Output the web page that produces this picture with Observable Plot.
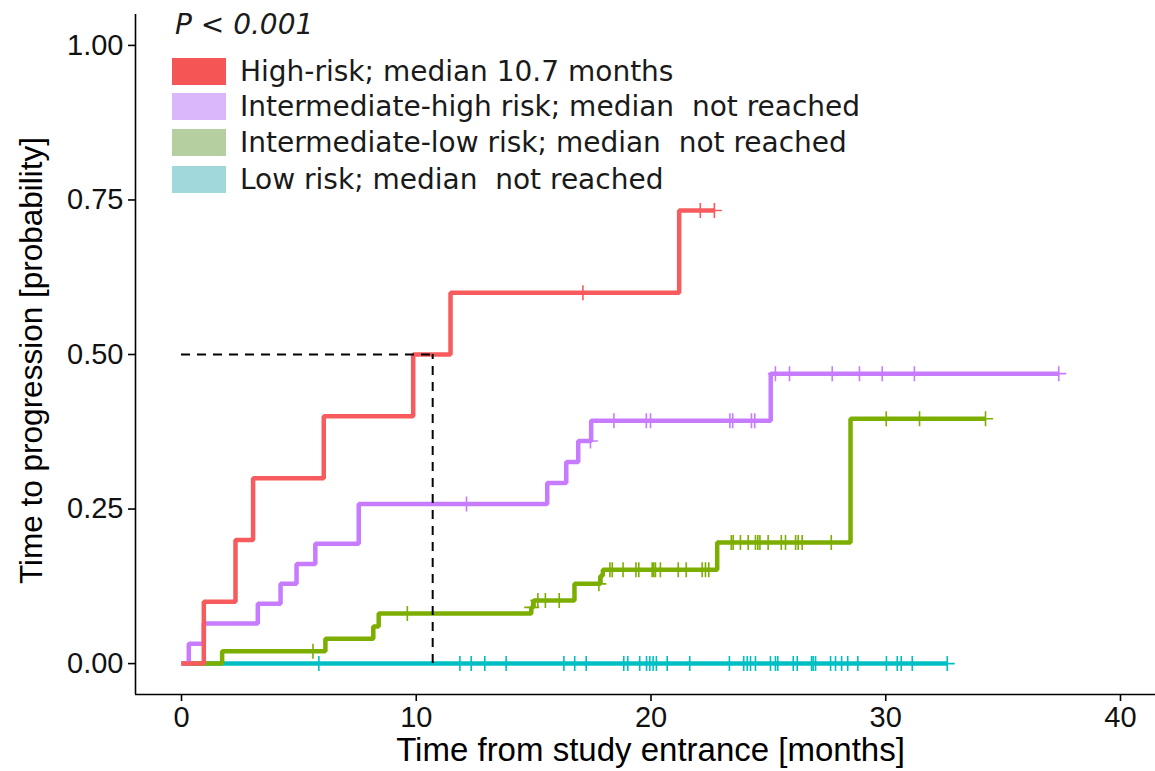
<!DOCTYPE html>
<html>
<head>
<meta charset="utf-8">
<script src="https://cdn.jsdelivr.net/npm/d3@7"></script>
<script src="https://cdn.jsdelivr.net/npm/@observablehq/plot@0.6"></script>
<style>
  html, body { margin: 0; padding: 0; background: #fff; }
  #wrap { position: relative; width: 1155px; height: 771px; }
  #legend { position: absolute; left: 172px; top: 0; font-family: "DejaVu Sans", sans-serif; font-size: 28px; color: #1a1a1a; }
  #pval { position: absolute; left: 3px; top: 8px; font-style: italic; white-space: nowrap; }
  .row { position: absolute; left: 0; height: 28px; display: flex; align-items: center; white-space: pre; }
  .swatch { width: 54px; height: 27px; margin-right: 14px; }
</style>
</head>
<body>
<div id="wrap"><div id="legend"></div></div>
<script>
// Risk groups, in legend order
const groups = ["High-risk", "Intermediate-high risk", "Intermediate-low risk", "Low risk"];
const legendLabels = [
  "High-risk; median 10.7 months",
  "Intermediate-high risk; median  not reached",
  "Intermediate-low risk; median  not reached",
  "Low risk; median  not reached"
];
const lineColors = ["#F85B5D", "#C77CFF", "#7CAE00", "#00BFC4"];
const legendColors = ["#F65556", "#DAB7FB", "#B6CFA0", "#A1D8DC"];
const pText = "P < 0.001";
const medianHigh = 10.7;

// Event times (months) and cumulative probability of progression after each event
const highTimes = [0.95, 2.3, 3.05, 6.06, 9.87, 11.46, 21.2];
const highProb = [0.1, 0.2, 0.3, 0.4, 0.5, 0.6, 0.733];
const highCensor = [17.1, 22.1, 22.7];

const intHighTimes = [0.31, 0.95, 3.25, 4.22, 4.9, 5.7, 7.55, 15.58, 16.39, 16.9, 17.45, 25.1];
const intHighProb = [0.032, 0.065, 0.097, 0.129, 0.161, 0.194, 0.258, 0.292, 0.326, 0.36, 0.393, 0.469];
const intHighCensor = [12.14, 17.42, 18.42, 19.8, 19.98, 23.36, 23.48, 24.28, 24.42, 25.3, 25.9, 27.72, 28.88, 29.85, 31.22, 37.37];

const intLowTimes = [1.73, 6.13, 8.17, 8.4, 14.9, 15.0, 16.74, 17.85, 17.95, 22.82, 28.5];
const intLowProb = [0.02, 0.04, 0.06, 0.081, 0.091, 0.102, 0.129, 0.142, 0.152, 0.196, 0.396];
const intLowCensor = [5.6, 9.62, 14.92, 15.18, 15.5, 16.09, 17.78, 18.25, 18.35, 18.81, 19.36, 19.48, 20.05, 20.12, 20.19, 20.4, 21.16, 21.5, 22.18, 22.32, 22.46, 23.42, 23.5, 23.81, 24.14, 24.45, 24.55, 24.64, 24.99, 25.55, 25.73, 26.16, 26.27, 26.44, 27.68, 30.02, 31.44, 34.25];

const lowTimes = [];
const lowProb = [];
const lowCensor = [5.85, 11.86, 12.34, 12.92, 13.83, 16.29, 16.75, 17.24, 18.84, 19.01, 19.52, 19.81, 19.95, 20.09, 20.23, 20.69, 21.65, 23.34, 23.95, 24.1, 24.24, 24.45, 25.09, 25.3, 25.4, 26.06, 26.23, 26.84, 26.91, 27.01, 27.65, 27.86, 28.12, 28.38, 28.81, 30.03, 30.49, 30.66, 31.13, 32.62];

const xTicks = [0, 10, 20, 30, 40];
const yTicks = [0, 0.25, 0.5, 0.75, 1];
const xTitle = "Time from study entrance [months]";
const yTitle = "Time to progression [probability]";

const series = [
  {group: groups[0], times: highTimes, prob: highProb, censor: highCensor},
  {group: groups[1], times: intHighTimes, prob: intHighProb, censor: intHighCensor},
  {group: groups[2], times: intLowTimes, prob: intLowProb, censor: intLowCensor},
  {group: groups[3], times: lowTimes, prob: lowProb, censor: lowCensor}
];

// Probability level in effect at time t
function levelAt(s, t) {
  let p = 0;
  s.times.forEach((ti, i) => { if (ti <= t) p = s.prob[i]; });
  return p;
}

// Step curves and censor marks; low risk drawn first so the higher-risk curves sit on top
const steps = [];
const censors = [];
for (const s of series.slice().reverse()) {
  const end = d3.max([...s.censor, ...s.times]);
  steps.push({group: s.group, t: 0, p: 0});
  s.times.forEach((t, i) => steps.push({group: s.group, t, p: s.prob[i]}));
  steps.push({group: s.group, t: end, p: levelAt(s, end)});
  s.censor.forEach(t => censors.push({group: s.group, t, p: levelAt(s, t)}));
}

const plusSymbol = {
  draw(ctx, size) {
    const r = Math.sqrt(size / Math.PI);
    ctx.moveTo(-r, 0); ctx.lineTo(r, 0);
    ctx.moveTo(0, -r); ctx.lineTo(0, r);
  }
};

const chart = Plot.plot({
  width: 1155,
  height: 771,
  marginLeft: 135,
  marginRight: 0,
  marginTop: 14,
  marginBottom: 77,
  style: {fontFamily: "'Liberation Sans Narrow', 'Liberation Sans', Arial, sans-serif", fontSize: "29px", color: "#000", background: "#fff"},
  x: {domain: [-1.96, 41.96], range: [135, 1166]},
  y: {domain: [-0.05, 1.05], range: [694, 14]},
  color: {domain: groups, range: lineColors},
  marks: [
    Plot.line(steps, {x: "t", y: "p", z: "group", stroke: "group", curve: "step-after", strokeWidth: 4.5, strokeLinejoin: "miter", strokeLinecap: "butt"}),
    Plot.dot(censors, {x: "t", y: "p", stroke: "group", symbol: plusSymbol, r: 7.5, strokeWidth: 1.6, fill: "none"}),
    Plot.ruleY([0.5], {x1: 0, x2: medianHigh, stroke: "#000", strokeWidth: 2, strokeDasharray: "9,7"}),
    Plot.ruleX([medianHigh], {y1: 0, y2: 0.5, stroke: "#000", strokeWidth: 2, strokeDasharray: "9,7"}),
    Plot.ruleX([-1.96], {y1: -0.05, y2: 1.05, stroke: "#000", strokeWidth: 1.6}),
    Plot.ruleY([-0.05], {stroke: "#000", strokeWidth: 1.6}),
    Plot.axisX({ticks: xTicks, tickSize: 7, tickPadding: 5, label: null, stroke: "#000", strokeWidth: 1.6, fill: "#111"}),
    Plot.axisY({ticks: yTicks, tickFormat: d3.format(".2f"), tickSize: 7, tickPadding: 5, label: null, stroke: "#000", strokeWidth: 1.6, fill: "#111"}),
    Plot.text([xTitle], {frameAnchor: "bottom", dy: 66, dx: 5, fontSize: 33, fontFamily: "'Liberation Sans', Arial, sans-serif", fill: "#000"}),
    Plot.text([yTitle], {frameAnchor: "left", textAnchor: "middle", rotate: -90, dx: -104, dy: 6, fontSize: 31.5, fontFamily: "'Liberation Sans', Arial, sans-serif", fill: "#000"})
  ]
});

const wrap = document.getElementById("wrap");
wrap.insertBefore(chart, wrap.firstChild);

// Legend inside the upper-left of the panel
const legend = document.getElementById("legend");
const p = document.createElement("div");
p.id = "pval";
p.textContent = pText;
legend.appendChild(p);
const rowCenters = [71, 106, 142, 179];
legendLabels.forEach((lab, i) => {
  const row = document.createElement("div");
  row.className = "row";
  row.style.top = (rowCenters[i] - 14) + "px";
  const sw = document.createElement("div");
  sw.className = "swatch";
  sw.style.background = legendColors[i];
  const tx = document.createElement("span");
  tx.textContent = lab;
  row.appendChild(sw);
  row.appendChild(tx);
  legend.appendChild(row);
});
</script>
</body>
</html>
